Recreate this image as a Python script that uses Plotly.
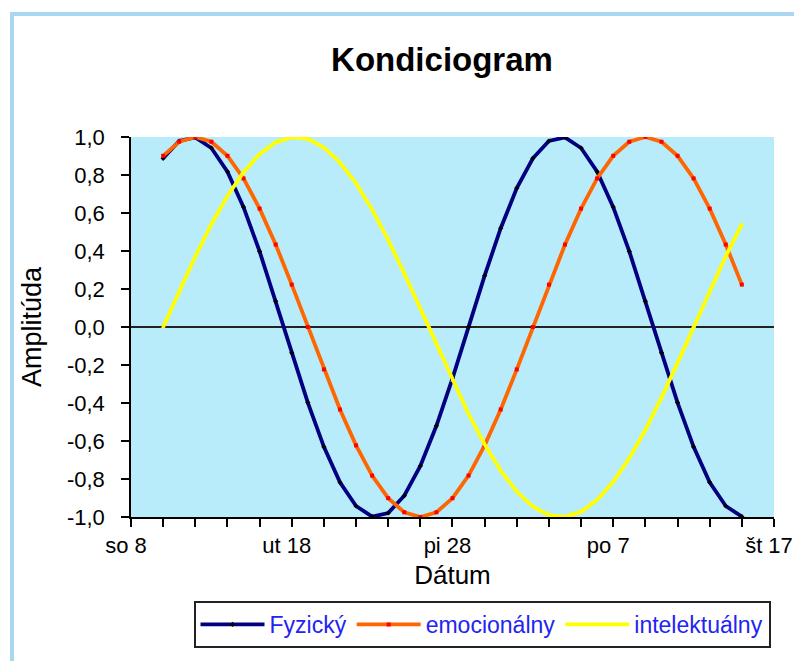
import plotly.graph_objects as go
import pandas as pd

# ---- data ----
dates = pd.date_range("2003-03-10", "2003-04-15", freq="D")

fyzicky = [0.888, 0.979, 0.998, 0.942, 0.817, 0.631, 0.398, 0.136, -0.136, -0.398,
           -0.631, -0.817, -0.942, -0.998, -0.979, -0.888, -0.731, -0.520, -0.270, 0.0,
           0.270, 0.520, 0.731, 0.888, 0.979, 0.998, 0.942, 0.817, 0.631, 0.398,
           0.136, -0.136, -0.398, -0.631, -0.817, -0.942, -0.998]

emocionalny = [0.901, 0.975, 1.0, 0.975, 0.901, 0.782, 0.623, 0.434, 0.223, 0.0,
               -0.223, -0.434, -0.623, -0.782, -0.901, -0.975, -1.0, -0.975, -0.901, -0.782,
               -0.623, -0.434, -0.223, 0.0, 0.223, 0.434, 0.623, 0.782, 0.901, 0.975,
               1.0, 0.975, 0.901, 0.782, 0.623, 0.434, 0.223]

intelektualny = [0.0, 0.189, 0.372, 0.541, 0.690, 0.815, 0.910, 0.972, 0.999, 0.990,
                 0.945, 0.866, 0.756, 0.618, 0.458, 0.282, 0.095, -0.095, -0.282, -0.458,
                 -0.618, -0.756, -0.866, -0.945, -0.990, -0.999, -0.972, -0.910, -0.815, -0.690,
                 -0.541, -0.372, -0.189, 0.0, 0.189, 0.372, 0.541]

series_names = ["Fyzický", "emocionálny", "intelektuálny"]

x_tick_dates = ["2003-03-08", "2003-03-18", "2003-03-28", "2003-04-07", "2003-04-17"]
x_tick_labels = ["so 8", "ut 18", "pi 28", "po 7", "št 17"]

y_tick_values = [-1.0, -0.8, -0.6, -0.4, -0.2, 0.0, 0.2, 0.4, 0.6, 0.8, 1.0]
y_tick_labels = ["-1,0", "-0,8", "-0,6", "-0,4", "-0,2", "0,0", "0,2", "0,4", "0,6", "0,8", "1,0"]

# ---- layout geometry ----
W, H = 794, 661
ML, MR, MT, MB = 131, 20, 137, 144
PW, PH = W - ML - MR, H - MT - MB

def px2x(px):
    return (px - ML) / PW

def py2y(py):
    return (H - MB - py) / PH

FONT = "Arial, Liberation Sans, sans-serif"

fig = go.Figure()

styles = [
    dict(line=dict(color="#000080", width=3.8), marker=dict(color="#000000", size=4, symbol="diamond")),
    dict(line=dict(color="#FF6600", width=3.8), marker=dict(color="#FF0000", size=4, symbol="square")),
    dict(line=dict(color="#FFFF00", width=3.8), marker=dict(color="#FFFF00", size=4, symbol="triangle-up")),
]

for name, vals, st in zip(series_names, [fyzicky, emocionalny, intelektualny], styles):
    fig.add_trace(go.Scatter(x=dates, y=vals, name=name, mode="lines+markers",
                             line=st["line"], marker=st["marker"]))

fig.update_layout(
    width=W, height=H,
    margin=dict(l=ML, r=MR, t=MT, b=MB, autoexpand=False),
    paper_bgcolor="white",
    plot_bgcolor="#B8ECFB",
    font=dict(family=FONT, color="black", size=22),
    title=dict(text="<b>Kondiciogram</b>", x=442 / W, xref="container", xanchor="center",
               y=1 - 59 / H, yref="container", yanchor="middle",
               font=dict(family=FONT, size=33, color="black")),
    showlegend=True,
    legend=dict(orientation="h", x=px2x(482), xanchor="center", y=py2y(601), yanchor="top",
                bgcolor="white", bordercolor="#222222", borderwidth=2,
                font=dict(family=FONT, size=23, color="#2323F2"),
                itemwidth=64, traceorder="normal"),
    xaxis=dict(
        type="date",
        range=["2003-03-08", "2003-04-17 00:02"],
        tickmode="array", tickvals=x_tick_dates, ticktext=x_tick_labels,
        ticklabeloverflow="allow",
        ticklabelshift=-5,
        automargin=False,
        ticks="outside", ticklen=8, tickwidth=1.5, tickcolor="black",
        minor=dict(dtick=2 * 86400000, tick0="2003-03-08", ticks="outside",
                   ticklen=8, tickwidth=1.5, tickcolor="black", showgrid=False),
        showline=True, linecolor="black", linewidth=1.5,
        showgrid=False, zeroline=False,
        tickfont=dict(family=FONT, size=22, color="black"),
        title=dict(text="Dátum", font=dict(family=FONT, size=26, color="black"), standoff=9),
    ),
    yaxis=dict(
        range=[-1, 1],
        tickmode="array", tickvals=y_tick_values, ticktext=y_tick_labels,
        automargin=False,
        ticks="outside", ticklen=8, tickwidth=1.5, tickcolor="black",
        ticklabelstandoff=12,
        showline=True, linecolor="black", linewidth=1.5,
        showgrid=False,
        zeroline=True, zerolinecolor="#222222", zerolinewidth=1.5,
        tickfont=dict(family=FONT, size=22, color="black"),
        title=dict(text="Amplitúda", font=dict(family=FONT, size=27, color="black"), standoff=17),
    ),
)

# light blue chart frame (left and top edges visible)
fig.add_shape(type="rect", xref="paper", yref="paper",
              x0=px2x(12), x1=px2x(900), y0=py2y(14), y1=py2y(900),
              line=dict(color="#A9D6F0", width=4), fillcolor="rgba(0,0,0,0)", layer="below")

fig.write_html("out.html")
